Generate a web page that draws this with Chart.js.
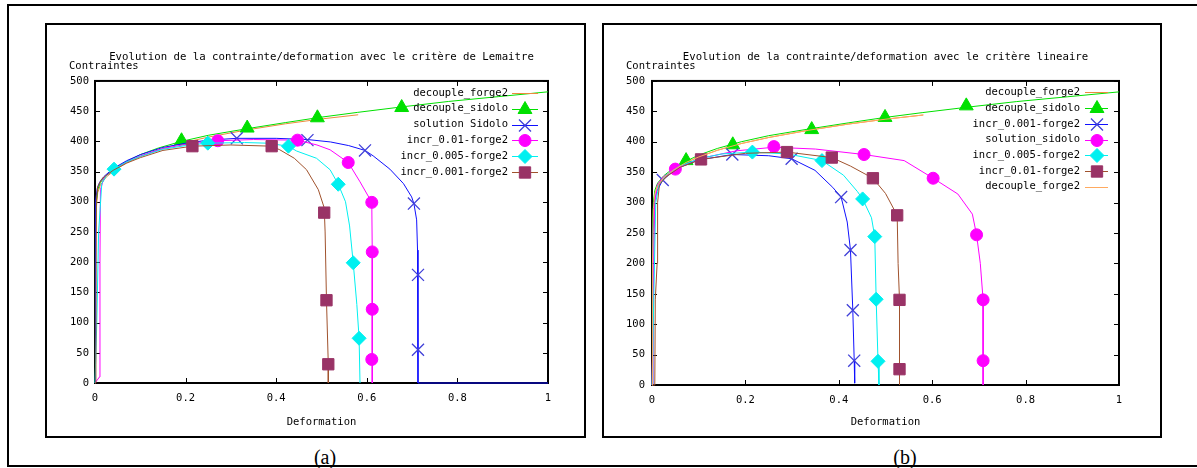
<!DOCTYPE html>
<html><head><meta charset="utf-8">
<script src="https://cdn.jsdelivr.net/npm/chart.js@4/dist/chart.umd.min.js"></script>
<style>
html,body{margin:0;padding:0;background:#fff;width:1197px;height:468px;overflow:hidden;}
body{position:relative;}
.frame{position:absolute;box-sizing:border-box;border:2px solid #000;}
canvas{position:absolute;}
.cap{position:absolute;font-family:'Liberation Serif','Times New Roman',serif;font-size:20px;line-height:20px;transform:translate(-50%,-50%);color:#000;}
</style></head><body>
<div class="frame" style="left:7px;top:4px;width:1230px;height:463px"></div>
<div class="frame" style="left:45px;top:23px;width:541px;height:415px"></div>
<div class="frame" style="left:602px;top:23px;width:560px;height:415px"></div>
<canvas id="cA" width="528" height="411" style="left:56px;top:25px;width:528px;height:411px"></canvas>
<canvas id="cB" width="549" height="411" style="left:611px;top:25px;width:549px;height:411px"></canvas>
<div class="cap" style="left:325px;top:457px">(a)</div>
<div class="cap" style="left:905px;top:457px">(b)</div>
<script>
// ---------- axes ----------
const xTickValues = [0, 0.2, 0.4, 0.6, 0.8, 1];
const yTickValues = [0, 50, 100, 150, 200, 250, 300, 350, 400, 450, 500];
const xAxisLabel = 'Deformation';
const yAxisLabel = 'Contraintes';
const titleA = 'Evolution de la contrainte/deformation avec le critère de Lemaitre';
const titleB = 'Evolution de la contrainte/deformation avec le critère lineaire';

// ---------- shared curves (decoupled computations) ----------
const decoupleSidoloCurve = [[0,0],[0.001,250],[0.003,300],[0.006,320],[0.012,332],[0.025,344],[0.045,356],[0.073,368],[0.1,378],[0.14,389],[0.191,400],[0.25,410],[0.336,421],[0.42,431],[0.499,440],[0.58,448],[0.677,457],[0.78,466],[0.89,474],[1.0,482]];
const decoupleForge2Curve = [[0,0],[0.001,200],[0.003,290],[0.006,315],[0.012,328],[0.025,341],[0.045,353],[0.073,366],[0.1,375],[0.14,386],[0.191,397],[0.25,407],[0.336,419],[0.42,429],[0.499,437],[0.581,444]];

// ---------- panel (a) : critère de Lemaitre ----------
const lemDecoupleSidoloMarks = [[0.191,401],[0.336,422],[0.491,439],[0.677,456]];
const lemSolutionSidoloCurve = [[0,0],[0.001,300],[0.005,322],[0.01,332],[0.02,342],[0.04,355],[0.07,368],[0.1,378],[0.15,390],[0.2,397],[0.25,402],[0.313,405],[0.4,405],[0.469,403],[0.52,399],[0.56,393],[0.596,385],[0.614,376],[0.651,354],[0.681,330],[0.699,308],[0.704,297],[0.71,270],[0.712,220],[0.713,150],[0.713,0],[1.0,0]];
const lemSolutionSidoloMarks = [[0.313,405],[0.469,402],[0.596,385],[0.704,297],[0.713,179],[0.713,55]];
const lemIncr001Curve = [[0,0],[0.01,10],[0.011,200],[0.012,320],[0.02,340],[0.04,353],[0.07,366],[0.1,376],[0.15,388],[0.2,395],[0.271,401],[0.35,403],[0.447,402],[0.49,394],[0.519,386],[0.559,365],[0.585,333],[0.611,299],[0.612,217],[0.612,0]];
const lemIncr001Marks = [[0.271,401],[0.447,402],[0.559,365],[0.611,299],[0.612,217],[0.612,122],[0.611,39]];
const lemIncr0005Curve = [[0,0],[0.004,100],[0.008,250],[0.015,330],[0.025,343],[0.042,354],[0.07,366],[0.1,375],[0.15,387],[0.2,393],[0.249,397],[0.33,398],[0.38,397],[0.427,392],[0.445,384],[0.489,372],[0.519,353],[0.537,329],[0.553,300],[0.562,260],[0.57,199],[0.578,130],[0.583,74],[0.585,0]];
const lemIncr0005Marks = [[0.042,354],[0.249,397],[0.427,392],[0.537,329],[0.57,199],[0.583,74]];
const lemIncr0001Curve = [[0,0],[0.002,30],[0.003,300],[0.006,325],[0.015,338],[0.04,352],[0.07,364],[0.1,373],[0.15,385],[0.215,392],[0.3,394],[0.39,392],[0.408,386],[0.44,372],[0.467,353],[0.493,320],[0.506,290],[0.508,250],[0.511,137],[0.515,31],[0.515,0]];
const lemIncr0001Marks = [[0.215,392],[0.39,392],[0.506,282],[0.511,137],[0.515,31]];

// ---------- panel (b) : critère lineaire ----------
const linDecoupleSidoloMarks = [[0.073,369],[0.173,395],[0.342,420],[0.499,440],[0.673,459]];
const linIncr0001Curve = [[0,0],[0.002,250],[0.005,300],[0.01,318],[0.023,337],[0.05,355],[0.1,370],[0.172,379],[0.25,377],[0.299,372],[0.349,353],[0.387,325],[0.405,309],[0.418,268],[0.425,222],[0.43,123],[0.433,40],[0.434,3]];
const linIncr0001Marks = [[0.023,337],[0.172,379],[0.299,372],[0.405,309],[0.425,222],[0.43,123],[0.433,40]];
const linSolutionSidoloCurve = [[0,0],[0.003,150],[0.006,300],[0.012,330],[0.025,343],[0.05,355],[0.1,372],[0.18,385],[0.261,391],[0.35,388],[0.454,379],[0.54,369],[0.602,340],[0.655,314],[0.686,281],[0.695,247],[0.703,200],[0.709,140],[0.709,0]];
const linSolutionSidoloMarks = [[0.05,355],[0.261,392],[0.454,379],[0.602,340],[0.695,247],[0.709,140],[0.709,40]];
const linIncr0005Curve = [[0,0],[0.004,150],[0.008,300],[0.015,330],[0.03,345],[0.06,360],[0.1,372],[0.15,380],[0.215,383],[0.29,380],[0.364,369],[0.41,345],[0.44,318],[0.451,306],[0.47,275],[0.477,244],[0.48,141],[0.484,39],[0.486,0]];
const linIncr0005Marks = [[0.215,383],[0.364,369],[0.451,306],[0.477,244],[0.48,141],[0.484,39]];
const linIncr001Curve = [[0,0],[0.006,0],[0.007,140],[0.011,200],[0.012,300],[0.016,330],[0.03,342],[0.06,358],[0.105,371],[0.2,381],[0.289,383],[0.385,374],[0.425,360],[0.473,340],[0.5,315],[0.525,279],[0.527,200],[0.53,140],[0.53,0]];
const linIncr001Marks = [[0.105,371],[0.289,383],[0.385,374],[0.473,340],[0.525,279],[0.53,140],[0.53,26]];

// ---------- styles ----------
const MONO = '"DejaVu Sans Mono", "Liberation Mono", monospace';
const C = {
  orange:'#ec8a3c', orange2:'#ffaa60', green:'#00e000', blueLine:'#1010ff', blueMark:'#4040d8',
  magenta:'#ff00ff', cyan:'#00f0f0', brown:'#a0522d', maroon:'#993366'
};

const seriesA = [
  {label:'decouple_forge2', curve:decoupleForge2Curve, line:C.orange},
  {label:'decouple_sidolo', curve:decoupleSidoloCurve, marks:lemDecoupleSidoloMarks, line:C.green, mark:C.green, style:'triangle', r:8},
  {label:'solution Sidolo', curve:lemSolutionSidoloCurve, marks:lemSolutionSidoloMarks, line:C.blueLine, mark:C.blueMark, style:'crossRot', r:8.5},
  {label:'incr_0.01-forge2', curve:lemIncr001Curve, marks:lemIncr001Marks, line:C.magenta, mark:C.magenta, style:'circle', r:6},
  {label:'incr_0.005-forge2', curve:lemIncr0005Curve, marks:lemIncr0005Marks, line:C.cyan, mark:C.cyan, style:'rectRot', r:7},
  {label:'incr_0.001-forge2', curve:lemIncr0001Curve, marks:lemIncr0001Marks, line:C.brown, mark:C.maroon, style:'rect', r:8}
];
const seriesB = [
  {label:'decouple_forge2', curve:decoupleForge2Curve, line:C.orange},
  {label:'decouple_sidolo', curve:decoupleSidoloCurve, marks:linDecoupleSidoloMarks, line:C.green, mark:C.green, style:'triangle', r:8},
  {label:'incr_0.001-forge2', curve:linIncr0001Curve, marks:linIncr0001Marks, line:C.blueLine, mark:C.blueMark, style:'crossRot', r:8.5},
  {label:'solution_sidolo', curve:linSolutionSidoloCurve, marks:linSolutionSidoloMarks, line:C.magenta, mark:C.magenta, style:'circle', r:6},
  {label:'incr_0.005-forge2', curve:linIncr0005Curve, marks:linIncr0005Marks, line:C.cyan, mark:C.cyan, style:'rectRot', r:7},
  {label:'incr_0.01-forge2', curve:linIncr001Curve, marks:linIncr001Marks, line:C.brown, mark:C.maroon, style:'rect', r:8},
  {label:'decouple_forge2', curve:decoupleForge2Curve, line:C.orange2}
];

const toXY = arr => arr.map(p => ({x:p[0], y:p[1]}));
function buildDatasets(list){
  const ds = []; const n = list.length;
  list.forEach((s,i) => {
    ds.push({label:s.label, data:toXY(s.curve), showLine:true, borderColor:s.line, backgroundColor:s.line,
      borderWidth:1, pointRadius:0, pointHoverRadius:0, fill:false, tension:0, clip:false, order:2*(n-i)+1});
    if (s.marks) ds.push({label:s.label, data:toXY(s.marks), showLine:false, pointStyle:s.style,
      pointRadius:s.r, pointHoverRadius:s.r, pointBackgroundColor:s.mark, pointBorderColor:s.mark,
      pointBorderWidth:s.style==='crossRot'?1.3:1, clip:false, order:2*(n-i)});
  });
  return ds;
}

function drawMarker(ctx, style, r, x, y, color){
  ctx.save();
  ctx.fillStyle = color; ctx.strokeStyle = color; ctx.lineWidth = style==='crossRot'?1.3:1;
  if (Chart.helpers && Chart.helpers.drawPoint) {
    Chart.helpers.drawPoint(ctx, {pointStyle:style, radius:r, borderWidth:ctx.lineWidth, rotation:0}, x, y);
  }
  ctx.restore();
}

const gnuFrame = {
  id:'gnuFrame',
  beforeDatasetsDraw(chart){
    const {ctx, chartArea:a, scales:{x, y}} = chart;
    ctx.save();
    ctx.strokeStyle = '#000'; ctx.lineWidth = 1;
    ctx.beginPath();
    xTickValues.forEach(v => {
      const px = Math.round(x.getPixelForValue(v)) + 0.5;
      ctx.moveTo(px, a.bottom); ctx.lineTo(px, a.bottom - 5);
      ctx.moveTo(px, a.top); ctx.lineTo(px, a.top + 5);
    });
    yTickValues.forEach(v => {
      const py = Math.round(y.getPixelForValue(v)) + 0.5;
      ctx.moveTo(a.left, py); ctx.lineTo(a.left + 5, py);
      ctx.moveTo(a.right, py); ctx.lineTo(a.right - 5, py);
    });
    ctx.stroke();
    ctx.lineWidth = 2;
    ctx.strokeRect(a.left, a.top, a.right - a.left, a.bottom - a.top);
    ctx.restore();
  },
  afterDraw(chart, args, opts){
    const {ctx, chartArea:a} = chart;
    ctx.save();
    ctx.fillStyle = '#000';
    ctx.font = '10.5px ' + MONO;
    ctx.textBaseline = 'middle';
    ctx.textAlign = 'left';
    ctx.fillText(yAxisLabel, a.left - 26, a.top - 15);
    // legend (gnuplot style : text then sample)
    ctx.textAlign = 'right';
    opts.series.forEach((s, i) => {
      const yy = a.top + opts.legTop + i * opts.legStep;
      ctx.fillStyle = '#000';
      ctx.fillText(s.label, a.right - opts.textGap, yy);
      ctx.strokeStyle = s.line; ctx.lineWidth = 1;
      ctx.beginPath();
      ctx.moveTo(a.right - opts.l0, Math.round(yy) + 0.5);
      ctx.lineTo(a.right - opts.l1, Math.round(yy) + 0.5);
      ctx.stroke();
      if (s.marks) drawMarker(ctx, s.style, s.r, a.right - opts.mk, Math.round(yy) + 0.5, s.mark);
    });
    ctx.restore();
  }
};

function makeChart(id, series, title, yW, yPad, padRight, xH, leg){
  return new Chart(document.getElementById(id), {
    type:'scatter',
    data:{datasets:buildDatasets(series)},
    options:{
      responsive:false, animation:false, devicePixelRatio:1,
      layout:{padding:{left:0, top:0, right:padRight, bottom:0}},
      plugins:{
        legend:{display:false}, tooltip:{enabled:false},
        title:{display:true, fullSize:false, text:title, color:'#000',
          font:{family:MONO, size:10.7, weight:'normal', lineHeight:1.2},
          padding:{top:25.6, bottom:17.5}},
        gnuFrame:Object.assign({series}, leg)
      },
      scales:{
        x:{type:'linear', min:0, max:1,
          afterBuildTicks:s => { s.ticks = xTickValues.map(v => ({value:v})); },
          afterFit:s => { s.height = xH; },
          grid:{display:false, drawTicks:false}, border:{display:false},
          ticks:{color:'#000', padding:9, font:{family:MONO, size:10.5},
            callback:v => String(Math.round(v * 10) / 10)},
          title:{display:true, text:xAxisLabel, color:'#000', font:{family:MONO, size:10.5, lineHeight:1.2}, padding:{top:0, bottom:7.7}}
        },
        y:{type:'linear', min:0, max:500,
          afterBuildTicks:s => { s.ticks = yTickValues.map(v => ({value:v})); },
          afterFit:s => { s.width = yW; },
          grid:{display:false, drawTicks:false}, border:{display:false},
          ticks:{color:'#000', padding:yPad, font:{family:MONO, size:10.5}}
        }
      }
    },
    plugins:[gnuFrame]
  });
}

makeChart('cA', seriesA, titleA, 39, 6, 36, 53, {legTop:12, legStep:15.8, textGap:40, l0:36, l1:10, mk:23});
makeChart('cB', seriesB, titleB, 41, 7, 41, 51, {legTop:11.5, legStep:15.7, textGap:39, l0:34, l1:11, mk:22});
</script>
</body></html>
